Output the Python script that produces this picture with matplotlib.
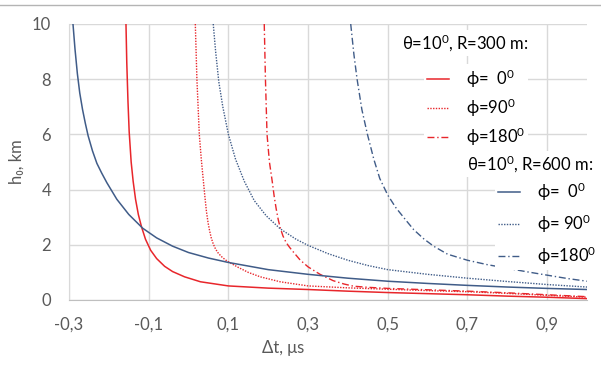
import matplotlib
matplotlib.use("Agg")
import matplotlib.pyplot as plt
from matplotlib.lines import Line2D

plt.rcParams['font.family'] = ['Lato', 'DejaVu Sans']
plt.rcParams['mathtext.fontset'] = 'custom'
plt.rcParams['mathtext.rm'] = 'Lato'
plt.rcParams['mathtext.it'] = 'Lato:italic'
plt.rcParams['mathtext.bf'] = 'Lato:bold'

# R = 300 m
t_r300_0 = [-0.157, -0.155, -0.152, -0.149, -0.144, -0.139, -0.133, -0.126, -0.118, -0.108, -0.095,
            -0.08, -0.06, -0.04, -0.01, 0.03, 0.1, 0.2, 0.3, 0.4, 0.5, 0.6, 0.7, 0.8, 0.9, 1.0]
h_r300_0 = [10, 8.6, 7.2, 6.1, 5.0, 4.3, 3.65, 3.1, 2.65, 2.2, 1.8,
            1.5, 1.22, 1.03, 0.84, 0.66, 0.51, 0.43, 0.38, 0.32, 0.27, 0.23, 0.19, 0.14, 0.1, 0.05]

t_r300_90 = [0.017, 0.019, 0.021, 0.024, 0.027, 0.032, 0.037, 0.041, 0.045, 0.049, 0.053, 0.057,
             0.062, 0.068, 0.075, 0.085, 0.095, 0.105, 0.125, 0.15, 0.18, 0.23, 0.3, 0.4, 0.5,
             0.6, 0.7, 0.8, 0.9, 1.0]
h_r300_90 = [10, 9, 8, 7, 6, 5.1, 4.35, 3.75, 3.2, 2.8, 2.5, 2.25,
             2.03, 1.84, 1.69, 1.54, 1.43, 1.34, 1.18, 1.0, 0.84, 0.66, 0.51, 0.44, 0.39,
             0.34, 0.3, 0.24, 0.17, 0.1]

t_r300_180 = [0.19, 0.193, 0.197, 0.203, 0.21, 0.215, 0.22, 0.225, 0.23, 0.237, 0.245, 0.254,
              0.263, 0.28, 0.3, 0.33, 0.363, 0.39, 0.414, 0.45, 0.5, 0.6, 0.7, 0.8, 0.9, 1.0]
h_r300_180 = [10, 8, 6, 5.0, 4.3, 3.75, 3.3, 2.92, 2.62, 2.32, 2.08, 1.9,
              1.74, 1.45, 1.2, 0.93, 0.7, 0.58, 0.5, 0.46, 0.42, 0.37, 0.32, 0.26, 0.19, 0.12]

# R = 600 m
t_r600_0 = [-0.29, -0.285, -0.279, -0.273, -0.266, -0.259, -0.252, -0.241, -0.23, -0.218, -0.205,
            -0.18, -0.15, -0.115, -0.08, -0.04, 0.0, 0.05, 0.1, 0.2, 0.3, 0.4, 0.5, 0.6, 0.7,
            0.8, 0.9, 1.0]
h_r600_0 = [10, 9.1, 8.2, 7.5, 6.9, 6.4, 5.95, 5.4, 4.95, 4.6, 4.25,
            3.65, 3.1, 2.6, 2.25, 1.95, 1.72, 1.52, 1.36, 1.1, 0.93, 0.79, 0.68, 0.6, 0.53,
            0.47, 0.42, 0.38]

t_r600_90 = [0.062, 0.068, 0.076, 0.086, 0.1, 0.118, 0.14, 0.165, 0.195, 0.23, 0.27, 0.3,
             0.35, 0.4, 0.45, 0.5, 0.6, 0.7, 0.8, 0.9, 1.0]
h_r600_90 = [10, 9.0, 7.9, 7.0, 6.0, 5.1, 4.3, 3.6, 3.05, 2.58, 2.2, 1.98,
             1.68, 1.44, 1.25, 1.1, 0.93, 0.79, 0.67, 0.56, 0.47]

t_r600_180 = [0.407, 0.415, 0.423, 0.435, 0.449, 0.465, 0.48, 0.5, 0.52, 0.545, 0.565, 0.59,
              0.615, 0.65, 0.7, 0.75, 0.8, 0.85, 0.9, 0.95, 1.0]
h_r600_180 = [10, 8.9, 8.0, 6.9, 6.0, 5.1, 4.4, 3.8, 3.35, 2.9, 2.55, 2.22,
              1.95, 1.66, 1.44, 1.28, 1.15, 1.02, 0.9, 0.78, 0.68]

x_ticks = [-0.3, -0.1, 0.1, 0.3, 0.5, 0.7, 0.9]
x_tick_labels = ['-0,3', '-0,1', '0,1', '0,3', '0,5', '0,7', '0,9']
y_ticks = [0, 2, 4, 6, 8, 10]

labels_300 = ['ϕ=  0$^{\\mathrm{0}}$', 'ϕ=90$^{\\mathrm{0}}$', 'ϕ=180$^{\\mathrm{0}}$']
labels_600 = ['ϕ=  0$^{\\mathrm{0}}$', 'ϕ= 90$^{\\mathrm{0}}$', 'ϕ=180$^{\\mathrm{0}}$']
title_300 = 'θ=10$^{\\mathrm{0}}$, R=300 m:'
title_600 = 'θ=10$^{\\mathrm{0}}$, R=600 m:'

RED = '#e8262b'
BLUE = '#405c88'
TXT = '#595959'
dotted = (0, (1, 1))
dashdot = (0, (5, 2, 1, 2))

fig = plt.figure(figsize=(6.01, 3.69), dpi=100)
ax = fig.add_axes([69 / 601, 1 - 300 / 369, 518 / 601, 276 / 369])

l1, = ax.plot(t_r300_0, h_r300_0, color=RED, lw=1.1)
l2, = ax.plot(t_r300_90, h_r300_90, color=RED, lw=1.0, ls=dotted)
l3, = ax.plot(t_r300_180, h_r300_180, color=RED, lw=1.0, ls=dashdot)
l4, = ax.plot(t_r600_0, h_r600_0, color=BLUE, lw=1.1)
l5, = ax.plot(t_r600_90, h_r600_90, color=BLUE, lw=1.0, ls=dotted)
l6, = ax.plot(t_r600_180, h_r600_180, color=BLUE, lw=1.0, ls=dashdot)

ax.set_xlim(-0.3, 1.0)
ax.set_ylim(0, 10)
ax.set_xticks(x_ticks)
ax.set_xticklabels(x_tick_labels)
ax.set_yticks(y_ticks)
ax.tick_params(length=0, labelsize=12, labelcolor=TXT)
ax.tick_params(axis='x', pad=12)
ax.tick_params(axis='y', pad=13)
ax.grid(True, color='#d9d9d9', lw=1)
ax.set_axisbelow(True)
for s in ['top', 'right']:
    ax.spines[s].set_visible(False)
ax.spines['left'].set_color('#d9d9d9')
ax.spines['bottom'].set_color('#bfbfbf')

ax.set_xlabel('Δt, μs', fontsize=12, color=TXT)
ax.xaxis.set_label_coords(0.413, -0.145)
ax.set_ylabel('h₀, km', fontsize=12, color=TXT)
ax.yaxis.set_label_coords(-0.085, 0.5)

leg_kw = dict(loc='upper left', bbox_transform=fig.transFigure, frameon=True, fontsize=12,
              handlelength=1.3, handletextpad=1.0, borderpad=0.2,
              borderaxespad=0, framealpha=1)
leg1 = ax.legend([l1, l2, l3], labels_300, bbox_to_anchor=(424 / 601, 1 - 64 / 369),
                 labelspacing=0.40, **leg_kw)
leg1.get_frame().set_edgecolor('none')
ax.add_artist(leg1)

leg2 = ax.legend([l4, l5, l6], labels_600, bbox_to_anchor=(495 / 601, 1 - 177 / 369),
                 labelspacing=0.58, **leg_kw)
leg2.get_frame().set_edgecolor('none')

fig.text(402 / 601, 1 - 43 / 369, title_300, fontsize=12, va='center', ha='left',
         bbox=dict(facecolor='white', edgecolor='none', pad=2))
fig.text(467 / 601, 1 - 164 / 369, title_600, fontsize=12, va='center', ha='left',
         bbox=dict(facecolor='white', edgecolor='none', pad=2))

fig.add_artist(Line2D([0, 1], [1 - 5 / 369, 1 - 5 / 369], transform=fig.transFigure,
                      color='#b4b4b4', lw=1))

fig.savefig('out.png', dpi=100)
